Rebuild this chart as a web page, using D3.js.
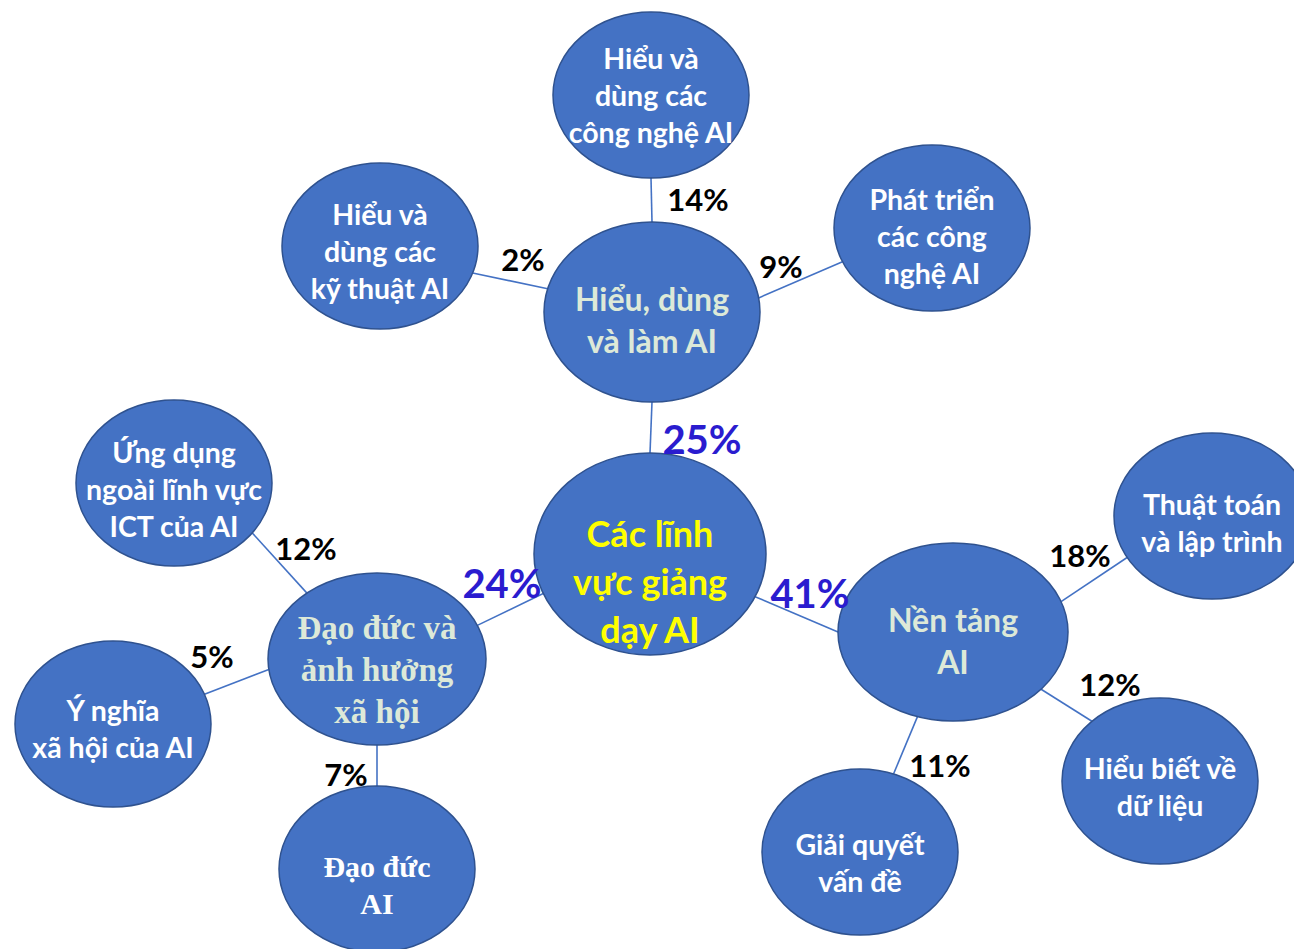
<!DOCTYPE html>
<html>
<head>
<meta charset="utf-8">
<script src="https://cdn.jsdelivr.net/npm/d3@7"></script>
<style>
  html, body { margin: 0; padding: 0; background: #fff; }
  svg { display: block; }
</style>
</head>
<body>
<div id="chart"></div>
<script>
// ---- data ----
var centerLabel = ["Các lĩnh", "vực giảng", "dạy AI"];

var domainIds = ["hieu", "daoduc", "nentang"];
var domainLabels = [
  ["Hiểu, dùng", "và làm AI"],
  ["Đạo đức và", "ảnh hưởng", "xã hội"],
  ["Nền tảng", "AI"]
];
var domainShares = [25, 24, 41];

var skillParents = ["hieu", "hieu", "hieu", "daoduc", "daoduc", "daoduc", "nentang", "nentang", "nentang"];
var skillLabels = [
  ["Hiểu và", "dùng các", "công nghệ AI"],
  ["Hiểu và", "dùng các", "kỹ thuật AI"],
  ["Phát triển", "các công", "nghệ AI"],
  ["Ứng dụng", "ngoài lĩnh vực", "ICT của AI"],
  ["Ý nghĩa", "xã hội của AI"],
  ["Đạo đức", "AI"],
  ["Thuật toán", "và lập trình"],
  ["Hiểu biết về", "dữ liệu"],
  ["Giải quyết", "vấn đề"]
];
var skillShares = [14, 2, 9, 12, 5, 7, 18, 12, 11];

// ---- layout (design units, 1294 x 949 canvas) ----
var layout = {
  center:  {cx: 650, cy: 554, rx: 116, ry: 101},
  hieu:    {cx: 652, cy: 312, rx: 108, ry: 90},
  daoduc:  {cx: 377, cy: 659, rx: 109, ry: 86},
  nentang: {cx: 953, cy: 632, rx: 115, ry: 89}
};
var skillLayout = [
  {cx: 651,  cy: 95,  a1: -90,  a2: 90,   lx: 698,  ly: 200, dy: 1},
  {cx: 380,  cy: 246, a1: -165, a2: 19,   lx: 523,  ly: 260, dy: 6},
  {cx: 932,  cy: 228, a1: -9,   a2: 156,  lx: 781,  ly: 267, dy: 9},
  {cx: 174,  cy: 483, a1: -130, a2: 37,   lx: 306,  ly: 549, dy: 7},
  {cx: 113,  cy: 724, a1: 173,  a2: -21,  lx: 212,  ly: 657, dy: 6},
  {cx: 377,  cy: 869, a1: 90,   a2: -90,  lx: 346,  ly: 775, dy: 16},
  {cx: 1212, cy: 516, a1: -20,  a2: 150,  lx: 1080, ly: 556, dy: 8},
  {cx: 1160, cy: 781, a1: 40,   a2: -134, lx: 1110, ly: 685, dy: 7},
  {cx: 860,  cy: 852, a1: 108,  a2: -70,  lx: 940,  ly: 766, dy: 12}
];
var domainLinks = [
  {a1: -90, a2: 90,  lx: 702, ly: 440, dy: 9},
  {a1: 157, a2: -23, lx: 502, ly: 584, dy: 10},
  {a1: 25,  a2: 180, lx: 810, ly: 594, dy: 10}
];
var leafR = {rx: 98, ry: 83};

var width = 1294, height = 949;
var x = d3.scaleLinear().domain([0, 1294]).range([0, width]);
var y = d3.scaleLinear().domain([0, 949]).range([0, height]);

var sans = "Lato, 'Noto Sans', 'Open Sans', sans-serif";
var serif = "'Liberation Serif', 'DejaVu Serif', serif";
var fill = "#4472c4", edge = "#2f528f";

var svg = d3.select("#chart").append("svg")
  .attr("width", width).attr("height", height);

function onEllipse(n, deg) {
  var t = deg * Math.PI / 180;
  return [n.cx + n.rx * Math.cos(t), n.cy + n.ry * Math.sin(t)];
}

// build nodes
var domains = domainIds.map(function(id, i) {
  return Object.assign({id: id, label: domainLabels[i], share: domainShares[i]}, layout[id], domainLinks[i]);
});
var skills = skillLabels.map(function(lab, i) {
  return Object.assign({label: lab, share: skillShares[i], parent: skillParents[i]}, leafR, skillLayout[i]);
});

// links
var links = [];
domains.forEach(function(d) {
  links.push({p1: onEllipse(layout.center, d.a1), p2: onEllipse(d, d.a2)});
});
skills.forEach(function(s) {
  links.push({p1: onEllipse(layout[s.parent], s.a1), p2: onEllipse(s, s.a2)});
});

svg.append("g").selectAll("line").data(links).enter().append("line")
  .attr("x1", function(d) { return x(d.p1[0]); })
  .attr("y1", function(d) { return y(d.p1[1]); })
  .attr("x2", function(d) { return x(d.p2[0]); })
  .attr("y2", function(d) { return y(d.p2[1]); })
  .attr("stroke", fill).attr("stroke-width", 1.6);

// ellipses
function drawNodes(data, cls) {
  return svg.append("g").attr("class", cls).selectAll("ellipse").data(data).enter().append("ellipse")
    .attr("cx", function(d) { return x(d.cx); })
    .attr("cy", function(d) { return y(d.cy); })
    .attr("rx", function(d) { return d.rx; })
    .attr("ry", function(d) { return d.ry; })
    .attr("fill", fill).attr("stroke", edge).attr("stroke-width", 1.5);
}
drawNodes([layout.center], "center");
drawNodes(domains, "domains");
drawNodes(skills, "skills");

// multi-line labels
function drawLabel(node, lines, size, lineH, color, family) {
  var n = lines.length;
  var t = svg.append("text")
    .attr("text-anchor", "middle")
    .attr("font-family", family)
    .attr("font-weight", "bold")
    .attr("font-size", size + "px")
    .attr("fill", color);
  lines.forEach(function(line, i) {
    t.append("tspan")
      .attr("x", x(node.cx))
      .attr("y", y(node.cy + (i - (n - 1) / 2) * lineH + node.dy))
      .attr("dy", "0.35em")
      .text(line);
  });
}

drawLabel(Object.assign({dy: 28}, layout.center), centerLabel, 36, 48, "#ffff00", sans);
domains.forEach(function(d) {
  var isSerif = d.id === "daoduc";
  drawLabel(d, d.label, isSerif ? 33 : 32, 42, "#dde9d8", isSerif ? serif : sans);
});
skills.forEach(function(s, i) {
  var isSerif = i === 5;
  drawLabel(s, s.label, isSerif ? 30 : 28.5, 37, "#ffffff", isSerif ? serif : sans);
});

// percentage labels
svg.append("g").selectAll("text").data(domains).enter().append("text")
  .attr("x", function(d) { return x(d.lx); })
  .attr("y", function(d) { return y(d.ly); })
  .attr("dy", "0.35em")
  .attr("text-anchor", "middle")
  .attr("font-family", sans).attr("font-weight", "bold")
  .attr("font-size", "40px").attr("fill", "#2a1ccf")
  .text(function(d) { return d.share + "%"; });

svg.append("g").selectAll("text").data(skills).enter().append("text")
  .attr("x", function(d) { return x(d.lx); })
  .attr("y", function(d) { return y(d.ly); })
  .attr("dy", "0.35em")
  .attr("text-anchor", "middle")
  .attr("font-family", sans).attr("font-weight", "bold")
  .attr("font-size", "31px").attr("fill", "#000")
  .text(function(d) { return d.share + "%"; });
</script>
</body>
</html>
